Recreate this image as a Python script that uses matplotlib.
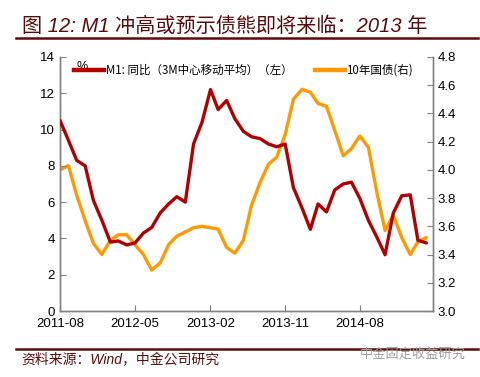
import matplotlib
matplotlib.use("Agg")
import matplotlib.pyplot as plt
import matplotlib.dates as mdates
from matplotlib.lines import Line2D
import pandas as pd

plt.rcParams['font.family'] = ['Liberation Sans', 'Noto Sans CJK SC', 'DejaVu Sans']

dates = pd.date_range("2011-08-01", periods=45, freq="MS")
m1_yoy = [10.5, 9.4, 8.3, 8.0, 6.1, 5.0, 3.8, 3.86, 3.64, 3.75, 4.3, 4.6, 5.4, 5.9, 6.3,
          6.0, 9.2, 10.4, 12.2, 11.1, 11.6, 10.6, 9.9, 9.6, 9.5, 9.2, 9.05, 9.2, 6.8, 5.7,
          4.5, 5.9, 5.46, 6.67, 7.0, 7.1, 6.2, 5.0, 4.1, 3.1, 5.4, 6.35, 6.4, 3.9, 3.75]
cgb10 = [4.00, 4.03, 3.82, 3.64, 3.48, 3.40, 3.50, 3.54, 3.54, 3.47, 3.40, 3.29, 3.34, 3.47,
         3.53, 3.56, 3.59, 3.60, 3.59, 3.58, 3.45, 3.41, 3.50, 3.75, 3.91, 4.04, 4.09, 4.25,
         4.50, 4.57, 4.55, 4.47, 4.45, 4.28, 4.10, 4.15, 4.24, 4.16, 3.85, 3.57, 3.68, 3.52,
         3.40, 3.49, 3.52]
tick_dates = pd.to_datetime(["2011-08-01", "2012-05-01", "2013-02-01", "2013-11-01", "2014-08-01"])
m1_label = "M1: 同比（3M中心移动平均）（左）"
bond_label = "10年国债(右)"

RED = "#B20000"
ORANGE = "#FF9900"
TITLE_C = "#5C0A0A"
SPINE = "#808080"

fig = plt.figure(figsize=(4.8, 3.77), dpi=100)
ax = fig.add_axes([0.125, 0.175, 0.777, 0.674])
ax2 = ax.twinx()

ax.plot(dates, m1_yoy, color=RED, lw=2.4, solid_joinstyle='round', solid_capstyle='round', zorder=3)
ax2.plot(dates, cgb10, color=ORANGE, lw=2.4, solid_joinstyle='round', solid_capstyle='round')
ax.set_zorder(ax2.get_zorder() + 1)
ax.patch.set_visible(False)

ax.set_ylim(0, 14)
ax.set_yticks(range(0, 15, 2))
ax2.set_ylim(3.0, 4.8)
ax2.set_yticks([3.0 + 0.2 * i for i in range(10)])
ax2.yaxis.set_major_formatter(matplotlib.ticker.FormatStrFormatter('%.1f'))
ax.set_xlim(pd.Timestamp("2011-08-01"), pd.Timestamp("2015-04-25"))
ax.set_xticks(tick_dates)
ax.xaxis.set_major_formatter(mdates.DateFormatter('%Y-%m'))

for a in (ax, ax2):
    a.spines['top'].set_visible(False)
    for s in ('left', 'right', 'bottom'):
        a.spines[s].set_color(SPINE)
        a.spines[s].set_linewidth(1.0)
    a.tick_params(direction='in', length=4, color=SPINE, labelsize=9.5, labelcolor='black')
ax.tick_params(axis='x', pad=5)

ax.text(0.06, 0.985, "%", transform=ax.transAxes, fontsize=9, ha='center', va='top')

handles = [Line2D([], [], color=RED, lw=3.2), Line2D([], [], color=ORANGE, lw=3.2)]
leg = ax.legend(handles, [m1_label, bond_label], ncol=2, loc='upper left',
                bbox_to_anchor=(0.02, 1.0), frameon=False, handlelength=2.6,
                handletextpad=0.1, columnspacing=2.0, borderaxespad=0.2,
                prop={'family': ['Noto Sans CJK SC'], 'size': 8.3})

fig.text(0.045, 0.955, "图 12: M1 冲高或预示债熊即将来临：2013 年", fontsize=14.5,
         color=TITLE_C, ha='left', va='top', style='italic',
         family=['Liberation Sans', 'Noto Sans CJK SC'])
fig.add_artist(Line2D([0.033, 0.995], [0.899, 0.899], color=TITLE_C, lw=1.8))
fig.add_artist(Line2D([0.033, 0.995], [0.074, 0.074], color=TITLE_C, lw=1.8))
fig.text(0.045, 0.062, "资料来源：Wind，中金公司研究", fontsize=10, color=TITLE_C,
         ha='left', va='top', style='italic', family=['Liberation Sans', 'Noto Sans CJK SC'])
fig.text(0.97, 0.078, "中金固定收益研究", fontsize=9.5, color='#A0A0A0', ha='right', va='top',
         family=['Noto Sans CJK SC'])

fig.savefig("out.png", dpi=100)
